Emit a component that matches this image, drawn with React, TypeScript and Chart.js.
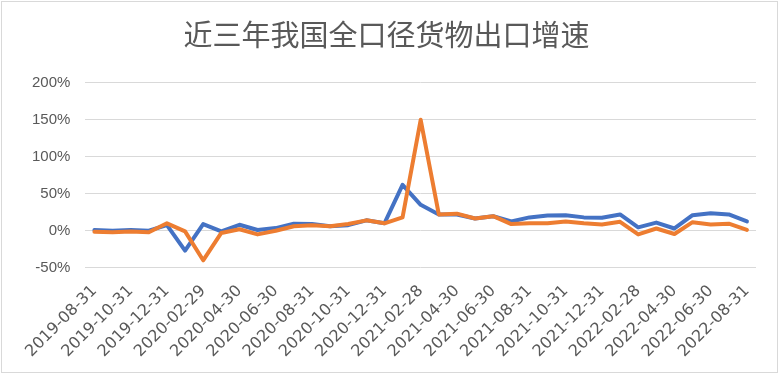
import React, { useEffect, useRef } from "react";
import { Chart, registerables } from "chart.js";

Chart.register(...registerables);

const TITLE = "近三年我国全口径货物出口增速";

const categories = [
  "2019-08-31", "2019-09-30", "2019-10-31", "2019-11-30", "2019-12-31",
  "2020-01-31", "2020-02-29", "2020-03-31", "2020-04-30", "2020-05-31",
  "2020-06-30", "2020-07-31", "2020-08-31", "2020-09-30", "2020-10-31",
  "2020-11-30", "2020-12-31", "2021-01-31", "2021-02-28", "2021-03-31",
  "2021-04-30", "2021-05-31", "2021-06-30", "2021-07-31", "2021-08-31",
  "2021-09-30", "2021-10-31", "2021-11-30", "2021-12-31", "2022-01-31",
  "2022-02-28", "2022-03-31", "2022-04-30", "2022-05-31", "2022-06-30",
  "2022-07-31", "2022-08-31",
];

const seriesBlue = [
  1, 0, 1, 0, 7.6, -27, 9, -1, 8, 1,
  3.5, 9.5, 9, 6, 7.5, 14, 10, 62, 35, 22,
  22, 16.5, 19.6, 12.5, 18, 20.5, 21, 18, 17.5, 22,
  4.5, 11, 3, 21, 23.5, 22, 12.5,
];

const seriesOrange = [
  -1.5, -2, -1, -2, 10, -1, -40, -3, 2, -5,
  0, 6, 7.5, 6, 9, 14, 10, 18, 150, 22,
  23, 16.5, 19.6, 9, 10, 10, 12.5, 10, 8.5, 12,
  -5, 3, -4.5, 11.5, 8.5, 9.5, 1,
];

const yTicks = [-50, 0, 50, 100, 150, 200];

export default function App() {
  const ref = useRef<HTMLCanvasElement | null>(null);

  useEffect(() => {
    document.body.style.margin = "0";
    const canvas = ref.current;
    if (!canvas) return;
    const chart = new Chart(canvas, {
      type: "line",
      data: {
        labels: categories,
        datasets: [
          {
            label: "系列2",
            data: seriesOrange,
            borderColor: "#ED7D31",
            backgroundColor: "#ED7D31",
            borderWidth: 4,
            pointRadius: 0,
            tension: 0,
            borderJoinStyle: "round",
            borderCapStyle: "round",
          },
          {
            label: "系列1",
            data: seriesBlue,
            borderColor: "#4472C4",
            backgroundColor: "#4472C4",
            borderWidth: 4,
            pointRadius: 0,
            tension: 0,
            borderJoinStyle: "round",
            borderCapStyle: "round",
          },
        ],
      },
      options: {
        animation: false,
        responsive: false,
        maintainAspectRatio: false,
        layout: { padding: { left: 17, right: 24, top: 0, bottom: 0 } },
        plugins: {
          legend: { display: false },
          tooltip: { enabled: false },
          title: {
            display: true,
            text: TITLE,
            color: "#595959",
            font: { family: "'Noto Sans CJK SC', sans-serif", size: 29, weight: "normal" },
            padding: { top: 18, bottom: 30 },
          },
        },
        scales: {
          x: {
            offset: true,
            grid: { display: false, drawTicks: false },
            border: { display: false },
            ticks: {
              autoSkip: false,
              minRotation: 45,
              maxRotation: 45,
              padding: 14,
              color: "#595959",
              font: { family: "'DejaVu Sans', sans-serif", size: 16 },
              callback: (_v: any, i: number) => (i % 2 === 0 ? categories[i] : ""),
            },
          },
          y: {
            min: yTicks[0],
            max: yTicks[yTicks.length - 1],
            grid: { color: "#D9D9D9", lineWidth: 1, drawTicks: false },
            border: { display: false },
            afterBuildTicks: (axis: any) => {
              axis.ticks = yTicks.map((v) => ({ value: v }));
            },
            ticks: {
              padding: 15,
              color: "#595959",
              font: { family: "'Liberation Sans', sans-serif", size: 15 },
              callback: (v: any) => v + "%",
            },
          },
        },
      },
    });
    return () => chart.destroy();
  }, []);

  return (
    <div
      style={{
        position: "fixed",
        left: 0,
        top: 0,
        width: 780,
        height: 375,
        background: "#fff",
      }}
    >
      <canvas ref={ref} width={780} height={375} style={{ display: "block" }} />
      <div
        style={{
          position: "absolute",
          left: 1,
          top: 1,
          width: 777,
          height: 372,
          border: "1px solid #D9D9D9",
          boxSizing: "border-box",
          pointerEvents: "none",
        }}
      />
    </div>
  );
}
